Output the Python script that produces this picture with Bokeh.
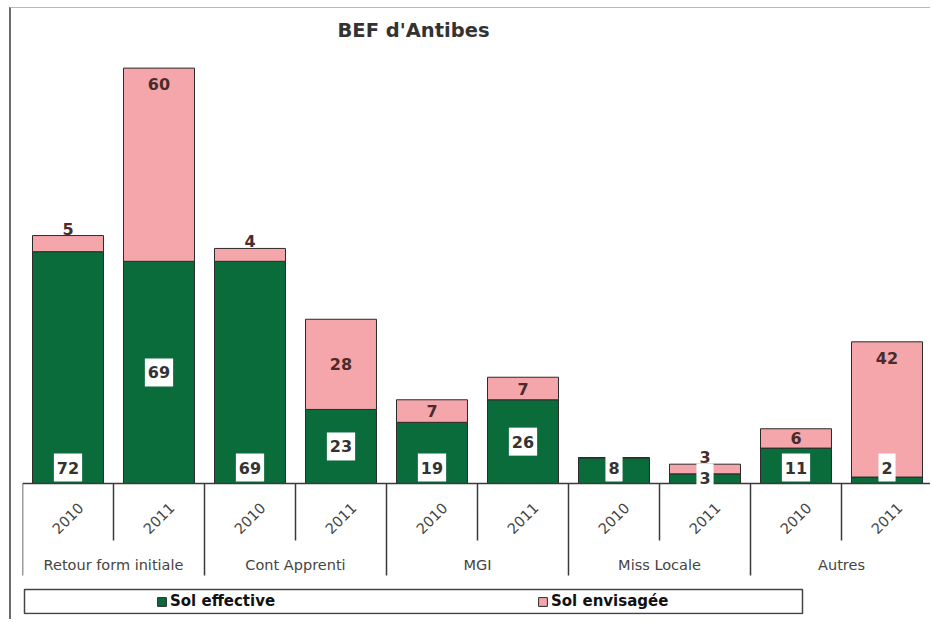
from bokeh.plotting import figure
from bokeh.models import FactorRange, ColumnDataSource, Legend, LegendItem, Range1d
from bokeh.core.properties import value
from bokeh.embed import file_html
from bokeh.resources import INLINE

# ---------------- data ----------------
categories = ["Retour form initiale", "Cont Apprenti", "MGI", "Miss Locale", "Autres"]
years = ["2010", "2011"]
sol_effective = [72, 69, 69, 23, 19, 26, 8, 3, 11, 2]
sol_envisagee = [5, 60, 4, 28, 7, 7, 0, 3, 6, 42]
series_names = ["Sol effective", "Sol envisagée"]
title_text = "BEF d'Antibes"

# where each value label sits (style choice, not coordinates)
eff_label_at = ["base", "mid", "base", "mid", "base", "mid", "base", "low", "base", "base"]
env_label_at = ["above", "top", "above", "mid", "mid", "mid", None, "above", "mid", "top"]

# ---------------- style ----------------
GREEN = "#0a6b3b"
PINK = "#f4a6ab"
EDGE = "#2b2b2b"
AXIS = "#3a3a3a"
FONT = "DejaVu Sans"
PX = 3.22                 # pixels per value unit
FRAME_H = 569
BASELINE_PX = 438         # baseline distance from frame top
SLOT_PX = 91

factors = [(c, y) for c in categories for y in years]
n = len(factors)

y_end = BASELINE_PX / PX
y_start = -(FRAME_H - BASELINE_PX) / PX


def below(px):
    """distance in px under the baseline -> data units"""
    return -px / PX


p = figure(
    x_range=FactorRange(*factors, factor_padding=0, group_padding=0,
                        subgroup_padding=0, range_padding=0),
    y_range=Range1d(y_start, y_end),
    width=921, height=612,
    output_backend="svg", toolbar_location=None,
    x_axis_location=None, y_axis_location=None,
    min_border_left=11, min_border_right=0, min_border_top=37, min_border_bottom=6,
)
p.styles = {"margin-left": "9px", "margin-top": "7px",
            "border-top": "1px solid #b8b8b8", "border-left": "2px solid #6a6a6a"}
p.xgrid.visible = False
p.ygrid.visible = False
p.outline_line_color = None
p.background_fill_color = "white"
p.border_fill_color = "white"

p.title.text = title_text
p.title.align = "left"
p.title.offset = 315
p.title.standoff = 7
p.title.text_font = FONT
p.title.text_font_size = "19.5px"
p.title.text_font_style = "bold"
p.title.text_color = "#333333"

src = ColumnDataSource(dict(x=factors, eff=sol_effective, env=sol_envisagee))
rs = p.vbar_stack(["eff", "env"], x="x", width=0.78, source=src,
                  color=[GREEN, PINK], line_color=EDGE, line_width=1)

# ---------------- category axis drawn as a box ----------------
p.segment(x0=[0], x1=[n], y0=[0], y1=[0], line_color=AXIS, line_width=1.5)
sep_x = list(range(n + 1))
sep_y1 = [below(92) if i % 2 == 0 else below(57) for i in sep_x]
p.segment(x0=sep_x, x1=sep_x, y0=[0] * len(sep_x), y1=sep_y1,
          line_color=AXIS, line_width=1.5)

p.text(x=factors, y=[below(35)] * n, text=[f[1] for f in factors],
       angle=0.785398, text_align="center", text_baseline="middle",
       text_font=value(FONT), text_font_size="14.5px", text_color="#444444")
p.text(x=categories, y=[below(81)] * len(categories), text=categories,
       text_align="center", text_baseline="middle",
       text_font=value(FONT), text_font_size="14.5px", text_color="#444444")

# ---------------- value labels ----------------
eff_y, eff_t, eff_x = [], [], []
for f, v, at in zip(factors, sol_effective, eff_label_at):
    eff_x.append(f)
    eff_t.append(str(v))
    if at == "mid":
        eff_y.append(v / 2)
    elif at == "low":
        eff_y.append(6 / PX)
    else:
        eff_y.append(16 / PX)
p.text(x=eff_x, y=eff_y, text=eff_t, text_align="center", text_baseline="middle",
       text_font=value(FONT), text_font_size="16px", text_font_style="bold",
       text_color="#333333", background_fill_color="white",
       padding=dict(left=3, right=3, top=8, bottom=8))

env_y, env_t, env_x = [], [], []
for f, e, v, at in zip(factors, sol_effective, sol_envisagee, env_label_at):
    if at is None:
        continue
    top = e + v
    env_x.append(f)
    env_t.append(str(v))
    if at == "above":
        env_y.append(top + 7 / PX)
    elif at == "top":
        env_y.append(top - 16 / PX)
    else:
        env_y.append(e + v / 2)
p.text(x=env_x, y=env_y, text=env_t, text_align="center", text_baseline="middle",
       text_font=value(FONT), text_font_size="16px", text_font_style="bold",
       text_color="#4a2c2c")

# ---------------- legend ----------------
p.quad(left=[2 / SLOT_PX], right=[780 / SLOT_PX], top=[below(106)], bottom=[below(130)],
       fill_color="white", line_color="#444444", line_width=1.5)
legend = Legend(
    items=[LegendItem(label=series_names[0], renderers=[rs[0]]),
           LegendItem(label=series_names[1], renderers=[rs[1]])],
    orientation="horizontal", location=(134, 4),
    padding=0, margin=0, spacing=2, label_standoff=3,
    glyph_width=11, glyph_height=11, label_width=365, label_height=16,
    border_line_alpha=0, background_fill_alpha=0,
    label_text_font=FONT, label_text_font_size="15px", label_text_font_style="bold",
    label_text_color="#111111",
)
p.add_layout(legend)

open("out.html", "w").write(file_html(p, INLINE))
